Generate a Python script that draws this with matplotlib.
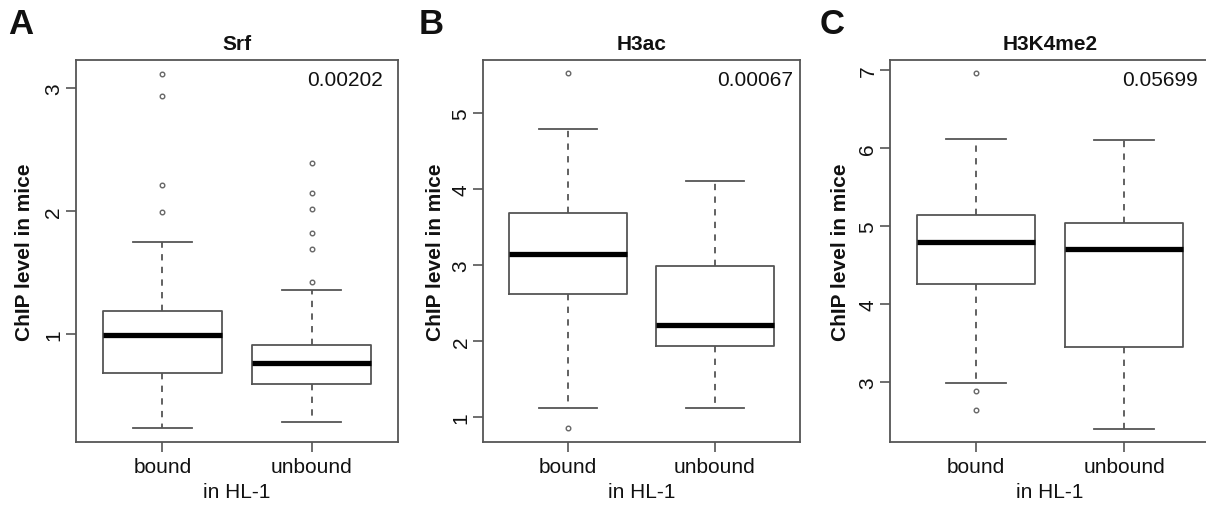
import matplotlib
matplotlib.use("Agg")
import matplotlib.pyplot as plt

# values (R-style boxplot summaries)
groups = ["bound", "unbound"]
panel_letters = ["A", "B", "C"]
titles = ["Srf", "H3ac", "H3K4me2"]
pvalues = ["0.00202", "0.00067", "0.05699"]

srf_med = [0.99, 0.76]
srf_q1 = [0.68, 0.59]
srf_q3 = [1.19, 0.91]
srf_lo = [0.23, 0.28]
srf_hi = [1.75, 1.36]
srf_fliers = [[3.12, 2.94, 2.21, 1.99], [2.39, 2.15, 2.02, 1.82, 1.69, 1.42]]

h3ac_med = [3.15, 2.21]
h3ac_q1 = [2.62, 1.93]
h3ac_q3 = [3.68, 2.99]
h3ac_lo = [1.12, 1.12]
h3ac_hi = [4.79, 4.11]
h3ac_fliers = [[5.53, 0.86], []]

h3k4_med = [4.79, 4.71]
h3k4_q1 = [4.26, 3.45]
h3k4_q3 = [5.14, 5.04]
h3k4_lo = [2.99, 2.40]
h3k4_hi = [6.12, 6.10]
h3k4_fliers = [[6.96, 2.89, 2.64], []]

ylims = [(0.12, 3.23), (0.67, 5.70), (2.23, 7.13)]
yticks = [[1, 2, 3], [1, 2, 3, 4, 5], [3, 4, 5, 6, 7]]

W, H = 1206, 506
# axes boxes in pixels: left, right, top, bottom
boxes = [(76, 398, 61, 443), (483, 800, 61, 443), (890, 1210, 61, 443)]
letter_x = [21, 431, 832]
pval_x = [383, 793, 1198]
ylabel_gap = [42, 38, 40]

plt.rcParams["font.family"] = ["Liberation Sans", "DejaVu Sans"]
FRAME = "#555555"
TXT = "#111111"


def stats_for(med, q1, q3, lo, hi, fl):
    return [dict(med=med[i], q1=q1[i], q3=q3[i], whislo=lo[i], whishi=hi[i],
                 fliers=fl[i], label=groups[i]) for i in range(len(groups))]


panels = [
    stats_for(srf_med, srf_q1, srf_q3, srf_lo, srf_hi, srf_fliers),
    stats_for(h3ac_med, h3ac_q1, h3ac_q3, h3ac_lo, h3ac_hi, h3ac_fliers),
    stats_for(h3k4_med, h3k4_q1, h3k4_q3, h3k4_lo, h3k4_hi, h3k4_fliers),
]

fig = plt.figure(figsize=(W / 100, H / 100), dpi=100)

for k, st in enumerate(panels):
    left, right, top, bottom = boxes[k]
    ax = fig.add_axes([left / W, 1 - bottom / H, (right - left) / W, (bottom - top) / H])
    ax.bxp(st, positions=[1, 2], widths=0.8, capwidths=0.4, showfliers=True,
           boxprops=dict(color=FRAME, lw=1.3),
           medianprops=dict(color="black", lw=3.8, solid_capstyle="butt"),
           whiskerprops=dict(color=FRAME, lw=1.3, ls=(0, (3.5, 3.5))),
           capprops=dict(color=FRAME, lw=1.3),
           flierprops=dict(marker="o", mfc="none", mec="#666666", ms=3.3, mew=1.0))
    ax.set_xlim(0.42, 2.58)
    ax.set_ylim(*ylims[k])
    ax.set_yticks(yticks[k])
    ax.set_yticklabels([str(v) for v in yticks[k]], rotation=90, va="center")
    ax.set_xticks([1, 2])
    ax.set_xticklabels(groups)
    ax.tick_params(axis="both", direction="out", length=7, width=1.2, color=FRAME,
                   labelsize=15, labelcolor=TXT)
    ax.tick_params(axis="y", pad=2)
    ax.tick_params(axis="x", pad=4)
    for s in ax.spines.values():
        s.set_color(FRAME)
        s.set_linewidth(1.3)

    ax.set_title(titles[k], fontsize=15, fontweight="bold", color=TXT, pad=8)
    ax.set_ylabel("ChIP level in mice", fontsize=15, fontweight="bold", color=TXT)
    ax.yaxis.set_label_coords(-ylabel_gap[k] / (right - left), 0.5)
    ax.set_xlabel("in HL-1", fontsize=15, color=TXT, labelpad=4)

    fig.text(pval_x[k] / W, 1 - 81 / H, pvalues[k], ha="right", va="center",
             fontsize=15, color=TXT)
    fig.text(letter_x[k] / W, 1 - 25 / H, panel_letters[k], ha="center", va="center",
             fontsize=25, fontweight="bold", color=TXT)

fig.savefig("out.png", dpi=100)
